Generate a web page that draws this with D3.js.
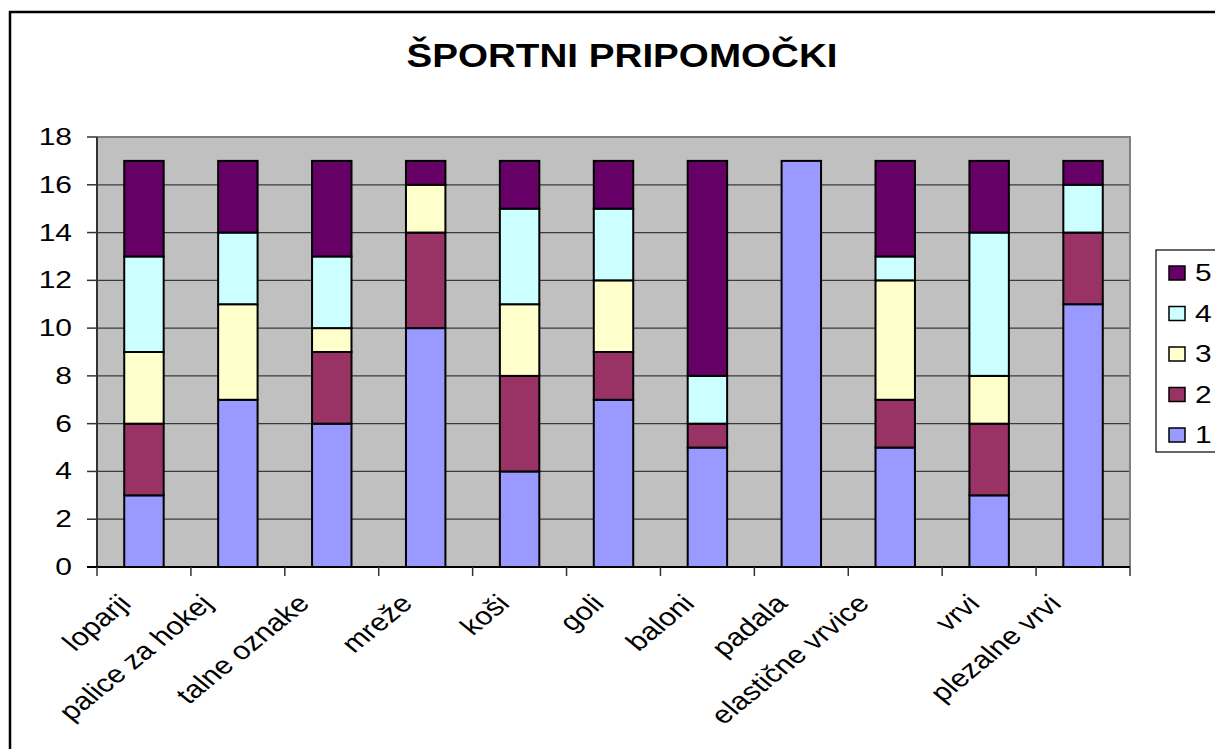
<!DOCTYPE html>
<html>
  <head>
    <meta charset="utf-8">
    <title>Športni pripomočki</title>
    <script src="https://cdn.jsdelivr.net/npm/d3@7"></script>
    <style>
      body { margin: 0; background: #fff; }
      text { font-family: Arial, "Liberation Sans", sans-serif; fill: #000; }
    </style>
  </head>
  <body>
    <svg id="chart"></svg>
    <script>

    var width = 1215
    var height = 749

    var categories = ["loparji", "palice za hokej", "talne oznake", "mreže", "koši", "goli",
      "baloni", "padala", "elastične vrvice", "vrvi", "plezalne vrvi"]
    var seriesNames = ["1", "2", "3", "4", "5"]
    var s1 = [3, 7, 6, 10, 4, 7, 5, 17, 5, 3, 11]
    var s2 = [3, 0, 3, 4, 4, 2, 1, 0, 2, 3, 3]
    var s3 = [3, 4, 1, 2, 3, 3, 0, 0, 5, 2, 0]
    var s4 = [4, 3, 3, 0, 4, 3, 2, 0, 1, 6, 2]
    var s5 = [4, 3, 4, 1, 2, 2, 9, 0, 4, 3, 1]
    var yTicks = [0, 2, 4, 6, 8, 10, 12, 14, 16, 18]
    var colors = ["#9999FF", "#993366", "#FFFFCC", "#CCFFFF", "#660066"]

    // build rows for d3.stack
    var rows = categories.map(function(c, i) {
      return { cat: c, "1": s1[i], "2": s2[i], "3": s3[i], "4": s4[i], "5": s5[i] }
    })
    var stacked = d3.stack().keys(seriesNames)(rows)

    var plot = { left: 97, right: 1130, top: 137, bottom: 567 }
    // the original picture is stretched sideways, text included
    var stretch = 1.22

    var svg = d3.select("#chart")
      .attr("width", width)
      .attr("height", height)

    // outer chart border (cut off at right and bottom)
    svg.append("rect")
      .attr("x", 10).attr("y", 12)
      .attr("width", 1240).attr("height", 780)
      .attr("fill", "#fff")
      .attr("stroke", "#000")
      .attr("stroke-width", 2.5)

    svg.append("text")
      .attr("transform", "translate(622,67) scale(1.17,1)")
      .attr("text-anchor", "middle")
      .style("font-size", "33px")
      .style("font-weight", "bold")
      .text("ŠPORTNI PRIPOMOČKI")

    var x = d3.scaleBand()
      .domain(categories)
      .range([plot.left, plot.right])
      .padding(0)

    var y = d3.scaleLinear()
      .domain([0, 18])
      .range([plot.bottom, plot.top])

    // plot area
    svg.append("rect")
      .attr("x", plot.left).attr("y", plot.top)
      .attr("width", plot.right - plot.left)
      .attr("height", plot.bottom - plot.top)
      .attr("fill", "#C0C0C0")

    // gridlines
    svg.append("g")
      .selectAll("line")
      .data(yTicks.filter(function(d) { return d > 0 && d < 18 }))
      .enter().append("line")
      .attr("x1", plot.left).attr("x2", plot.right)
      .attr("y1", function(d) { return y(d) }).attr("y2", function(d) { return y(d) })
      .attr("stroke", "#3a3a3a")
      .attr("stroke-width", 1.2)

    // plot border top/right
    svg.append("path")
      .attr("d", "M" + plot.left + "," + plot.top + "H" + plot.right + "V" + plot.bottom)
      .attr("fill", "none")
      .attr("stroke", "#808080")
      .attr("stroke-width", 2)

    // bars
    var barW = x.bandwidth() * 0.42
    svg.append("g")
      .selectAll("g")
      .data(stacked)
      .enter().append("g")
      .attr("fill", function(d, i) { return colors[i] })
      .selectAll("rect")
      .data(function(d) { return d.filter(function(p) { return p[1] - p[0] > 0 }) })
      .enter().append("rect")
      .attr("x", function(d) { return x(d.data.cat) + (x.bandwidth() - barW) / 2 })
      .attr("y", function(d) { return y(d[1]) })
      .attr("width", barW)
      .attr("height", function(d) { return y(d[0]) - y(d[1]) })
      .attr("stroke", "#000")
      .attr("stroke-width", 2)

    // y axis
    var yAxis = svg.append("g")
    yAxis.append("line")
      .attr("x1", plot.left).attr("x2", plot.left)
      .attr("y1", plot.top).attr("y2", plot.bottom)
      .attr("stroke", "#333").attr("stroke-width", 2)
    yAxis.selectAll(".tick")
      .data(yTicks)
      .enter().append("line")
      .attr("x1", plot.left - 10).attr("x2", plot.left)
      .attr("y1", function(d) { return y(d) }).attr("y2", function(d) { return y(d) })
      .attr("stroke", "#333").attr("stroke-width", 1.5)
    yAxis.selectAll("text")
      .data(yTicks)
      .enter().append("text")
      .attr("transform", function(d) { return "translate(72," + (y(d) + 8) + ") scale(1.25,1)" })
      .attr("text-anchor", "end")
      .style("font-size", "24px")
      .text(function(d) { return d })

    // x axis
    var xAxis = svg.append("g")
    xAxis.append("line")
      .attr("x1", plot.left - 10).attr("x2", plot.right)
      .attr("y1", plot.bottom).attr("y2", plot.bottom)
      .attr("stroke", "#000").attr("stroke-width", 2)
    var bounds = categories.map(function(c) { return x(c) }).concat([plot.right])
    xAxis.selectAll(".tick")
      .data(bounds)
      .enter().append("line")
      .attr("x1", function(d) { return d }).attr("x2", function(d) { return d })
      .attr("y1", plot.bottom).attr("y2", plot.bottom + 9)
      .attr("stroke", "#333").attr("stroke-width", 1.5)
    xAxis.selectAll("text")
      .data(categories)
      .enter().append("text")
      .attr("text-anchor", "end")
      .style("font-size", "25px")
      .text(function(d) { return d })
      .each(function(d) {
        // longer labels sit a little further left of the category centre
        var len = this.getComputedTextLength()
        var cx = x(d) + x.bandwidth() / 2 - 3 - len / 8
        d3.select(this).attr("transform",
          "translate(" + cx + ",605) scale(" + stretch + ",1) rotate(-45)")
      })

    // legend
    var legend = svg.append("g")
    legend.append("rect")
      .attr("x", 1156).attr("y", 250)
      .attr("width", 100).attr("height", 202)
      .attr("fill", "#fff")
      .attr("stroke", "#000").attr("stroke-width", 1.2)
    var items = legend.selectAll("g")
      .data(seriesNames.slice().reverse())
      .enter().append("g")
      .attr("transform", function(d, i) { return "translate(0," + (273 + i * 40.5) + ")" })
    items.append("rect")
      .attr("x", 1169).attr("y", -7)
      .attr("width", 16).attr("height", 14)
      .attr("fill", function(d) { return colors[+d - 1] })
      .attr("stroke", "#000").attr("stroke-width", 1.5)
    items.append("text")
      .attr("transform", "translate(1195,8) scale(1.3,1)")
      .style("font-size", "23px")
      .text(function(d) { return d })

    </script>
  </body>
</html>
